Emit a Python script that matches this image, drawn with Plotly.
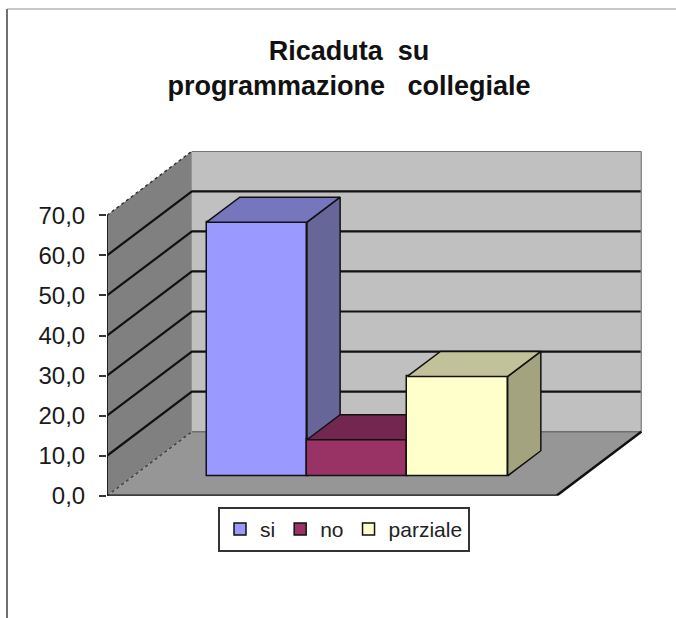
import plotly.graph_objects as go

# Data
categories = ["si", "no", "parziale"]
values = [63.3, 9.0, 24.8]
y_ticks = [0, 10, 20, 30, 40, 50, 60, 70]
title_lines = ["Ricaduta  su", "programmazione   collegiale"]

front_colors = ["#9999FF", "#993366", "#FFFFCC"]
top_colors = ["#7676BE", "#732650", "#C2C29A"]
side_colors = ["#666699", "#732650", "#A3A37F"]

# Page and oblique-projection set-up
W, H = 676, 618
PH = 604                           # plot-area height left after the legend's automatic margin
X0, X1 = -1.4925, 3.8383           # horizontal range of the whole box, category units
YMAX = 86.0                        # vertical range of the whole box, value units
DEPTH_X, DEPTH_Y = 0.846, 16.0     # shift of the back wall relative to the front plane
FRONT_W = 4.478                    # width of floor's front edge
BAR_D0, BAR_D1 = 0.3125, 0.703     # depth of bar front / rear faces


def proj(x, v, d):
    """Oblique projection of (x, value, depth) on the 2D axes."""
    return x + DEPTH_X * d, v + DEPTH_Y * d


def poly(pts):
    pp = [proj(*p) for p in pts]
    pp.append(pp[0])
    return [p[0] for p in pp], [p[1] for p in pp]


fig = go.Figure()


def area(pts, color):
    xs, ys = poly(pts)
    fig.add_trace(go.Scatter(x=xs, y=ys, mode="lines", fill="toself", fillcolor=color,
                             line=dict(color=color, width=0),
                             showlegend=False, hoverinfo="skip", cliponaxis=False))


def line(pts, color="#000000", width=2, dash="solid"):
    pp = [proj(*p) for p in pts]
    fig.add_trace(go.Scatter(x=[p[0] for p in pp], y=[p[1] for p in pp], mode="lines",
                             line=dict(color=color, width=width, dash=dash),
                             showlegend=False, hoverinfo="skip", cliponaxis=False))


vmax = y_ticks[-1]
# side wall, back wall, floor
area([(X0, 0, 0), (X0, vmax, 0), (X0, vmax, 1), (X0, 0, 1)], "#808080")
area([(X0, 0, 1), (X0, vmax, 1), (X0 + FRONT_W, vmax, 1), (X0 + FRONT_W, 0, 1)], "#C0C0C0")
area([(X0, 0, 0), (X0, 0, 1), (X0 + FRONT_W, 0, 1), (X0 + FRONT_W, 0, 0)], "#969696")

# gridlines
for t in y_ticks[1:-1]:
    line([(X0, t, 0), (X0, t, 1), (X0 + FRONT_W, t, 1)], "#111111", 2.2)
line([(X0, vmax, 0), (X0, vmax, 1)], "#333333", 1.5, "dot")
line([(X0, vmax, 1), (X0 + FRONT_W, vmax, 1)], "#555555", 1.5)
line([(X0 + FRONT_W, vmax, 1), (X0 + FRONT_W, 0, 1)], "#8A8A8A", 1.5)
line([(X0, 0, 1), (X0 + FRONT_W, 0, 1)], "#6E6E6E", 1.5)
line([(X0, 0, 0), (X0, 0, 1)], "#444444", 1.5, "dot")
line([(X0, 0, 0), (X0 + FRONT_W, 0, 0), (X0 + FRONT_W, 0, 1)], "#111111", 2.5)
line([(X0, 0, 0), (X0, vmax, 0)], "#222222", 2)

# bars: each on its own overlay so that later bars cover earlier ones
for i, (cat, val) in enumerate(zip(categories, values)):
    ax = (f"x{i + 2}", f"y{i + 2}")
    base = DEPTH_Y * BAR_D0
    xl, xr = i - 0.5, i + 0.5
    sx = DEPTH_X * (BAR_D1 - BAR_D0)
    sy = DEPTH_Y * (BAR_D1 - BAR_D0)
    side_x = [xr, xr + sx, xr + sx, xr, xr]
    side_y = [base, base + sy, base + val + sy, base + val, base]
    top_x = [xl, xl + sx, xr + sx, xr, xl]
    top_y = [base + val, base + val + sy, base + val + sy, base + val, base + val]
    for xs, ys, col in ((side_x, side_y, side_colors[i]), (top_x, top_y, top_colors[i])):
        fig.add_trace(go.Scatter(x=xs, y=ys, mode="lines", fill="toself", fillcolor=col,
                                 line=dict(color="#111111", width=1.5), xaxis=ax[0], yaxis=ax[1],
                                 showlegend=False, hoverinfo="skip", cliponaxis=False))
    fig.add_trace(go.Bar(x=[i], y=[val], base=[base], width=1, name=cat,
                         marker=dict(color=front_colors[i], line=dict(color="#111111", width=1.5)),
                         xaxis=ax[0], yaxis=ax[1], cliponaxis=False))

dom_x = [107 / W, 642 / W]
dom_y = [(PH - 495) / PH, (PH - 151) / PH]
layout = dict(
    width=W, height=H, margin=dict(l=0, r=0, t=0, b=0, pad=0), autosize=False,
    paper_bgcolor="#FFFFFF", plot_bgcolor="rgba(0,0,0,0)", separators=",.",
    font=dict(family="Liberation Sans, Arial, sans-serif", color="#1A1A1A"),
    title=dict(text="<br>".join(title_lines), x=349 / W, xanchor="center", xref="paper", y=1 - 60 / H,
               yanchor="top", font=dict(size=27, family="Liberation Sans, Arial, sans-serif", weight="bold", color="#111111")),
    xaxis=dict(domain=dom_x, range=[X0, X1], visible=False, fixedrange=True),
    yaxis=dict(domain=dom_y, range=[0, YMAX], tickmode="array", tickvals=y_ticks, tickformat=".1f",
               ticks="outside", ticklen=7, tickwidth=1.5, tickcolor="#333333", showgrid=False, zeroline=False,
               showline=False, tickfont=dict(size=24, color="#1A1A1A"), ticklabelstandoff=9, fixedrange=True),
    legend=dict(orientation="h", x=344 / W, xanchor="center", xref="paper", yref="paper",
                y=1 - 506 / PH, yanchor="top", bgcolor="#FFFFFF", bordercolor="#333333", borderwidth=2,
                font=dict(size=21, color="#222222"), itemwidth=30, traceorder="normal"),
    shapes=[
        dict(type="line", xref="paper", yref="paper", x0=7 / W, x1=7 / W, y0=1 - 9 / PH, y1=1 - H / PH, layer="below",
             line=dict(color="#707070", width=2)),
        dict(type="line", xref="paper", yref="paper", x0=7 / W, x1=1, y0=1 - 9 / PH, y1=1 - 9 / PH, layer="below",
             line=dict(color="#909090", width=1)),
    ],
    showlegend=True,
    bargap=0,
)
for i in range(len(categories)):
    n = i + 2
    layout[f"xaxis{n}"] = dict(domain=dom_x, range=[X0, X1], visible=False, overlaying="x", anchor=f"y{n}", fixedrange=True)
    layout[f"yaxis{n}"] = dict(domain=dom_y, range=[0, YMAX], visible=False, overlaying="y", anchor=f"x{n}", fixedrange=True)
fig.update_layout(**layout)
fig.write_html("out.html", config={"displayModeBar": False},
               post_script="document.body.style.margin='0';document.documentElement.style.overflow='hidden';")
